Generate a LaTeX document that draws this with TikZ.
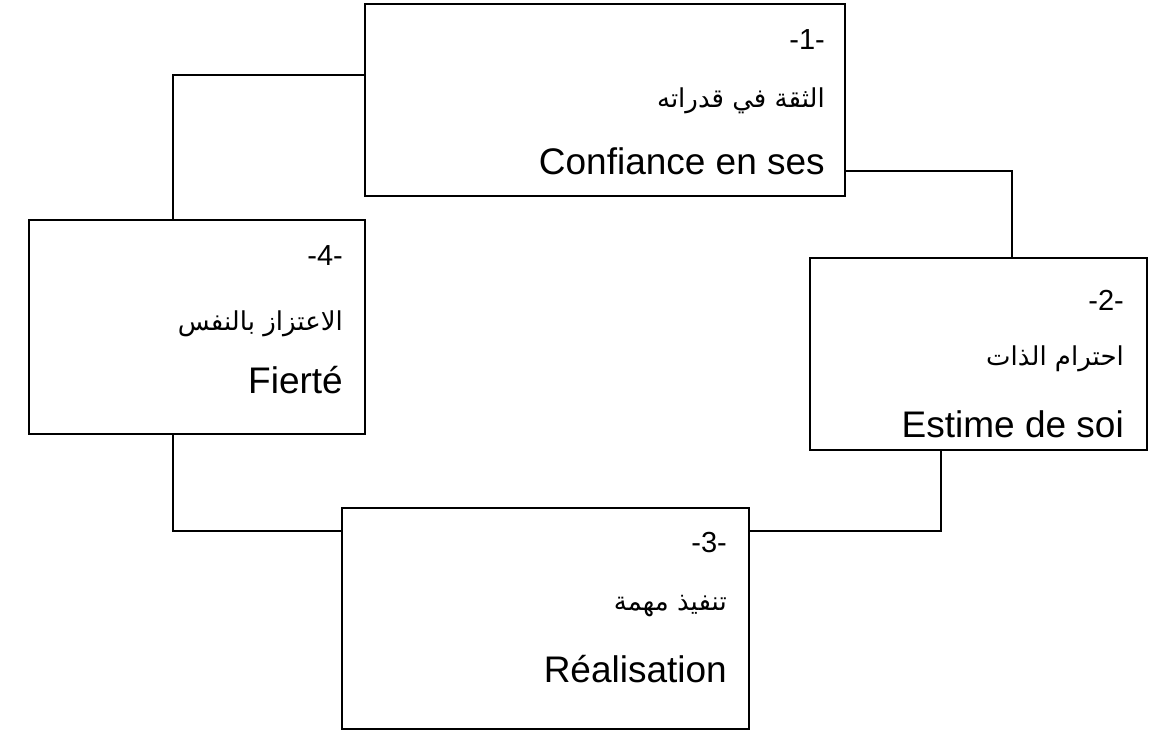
\documentclass[tikz,border=0pt]{standalone}
\usepackage{fontspec}
\setmainfont{Liberation Sans}
\newfontfamily\arabicfont[Script=Arabic]{DejaVu Sans}
\TeXXeTstate=1
\tikzset{
  box/.style={draw=black, line width=1.6pt, anchor=north west, inner sep=0pt},
  conn/.style={draw=black, line width=1.3pt},
  numtxt/.style={anchor=base east, inner sep=0pt, font=\fontsize{29}{33}\selectfont},
  artxt/.style={anchor=base east, inner sep=0pt, font=\arabicfont\fontsize{26}{30}\selectfont},
  entxt/.style={anchor=base east, inner sep=0pt, font=\fontsize{37}{42}\selectfont}
}
\begin{document}
\begin{tikzpicture}[x=1pt,y=-1pt]
\useasboundingbox (0,0) rectangle (1169,733);
% boxes
\node[box, minimum width=480pt, minimum height=192pt] (b1) at (364,3) {};
\node[box, minimum width=337pt, minimum height=192pt] (b2) at (809,257) {};
\node[box, minimum width=407pt, minimum height=221pt] (b3) at (341,507) {};
\node[box, minimum width=336pt, minimum height=214pt] (b4) at (28,219) {};
% texts box 1
\node[numtxt] (n1) at (825,50) {-1-};
\node[artxt] (a1) at (825,108) {\beginR الثقة في قدراته\endR};
\node[entxt] (e1) at (825,174) {Confiance en ses};
% texts box 2
\node[numtxt] (n2) at (1124,310) {-2-};
\node[artxt] (a2) at (1124,365) {\beginR احترام الذات\endR};
\node[entxt] (e2) at (1124,437) {Estime de soi};
% texts box 3
\node[numtxt] (n3) at (727,552) {-3-};
\node[artxt] (a3) at (727,610) {\beginR تنفيذ مهمة\endR};
\node[entxt] (e3) at (727,682) {Réalisation};
% texts box 4
\node[numtxt] (n4) at (343,265) {-4-};
\node[artxt] (a4) at (343,330) {\beginR الاعتزاز بالنفس\endR};
\node[entxt] (e4) at (343,393) {Fierté};
% connectors
\coordinate (c1) at (173,75);
\coordinate (c2) at (1012,171);
\coordinate (c3) at (941,531);
\coordinate (c4) at (173,531);
\draw[conn] (b1.west |- c1) -| (b4.north -| c1);
\draw[conn] (b1.east |- c2) -| (b2.north -| c2);
\draw[conn] (b2.south -| c3) |- (b3.east |- c3);
\draw[conn] (b4.south -| c4) |- (b3.west |- c4);
\end{tikzpicture}
\end{document}
